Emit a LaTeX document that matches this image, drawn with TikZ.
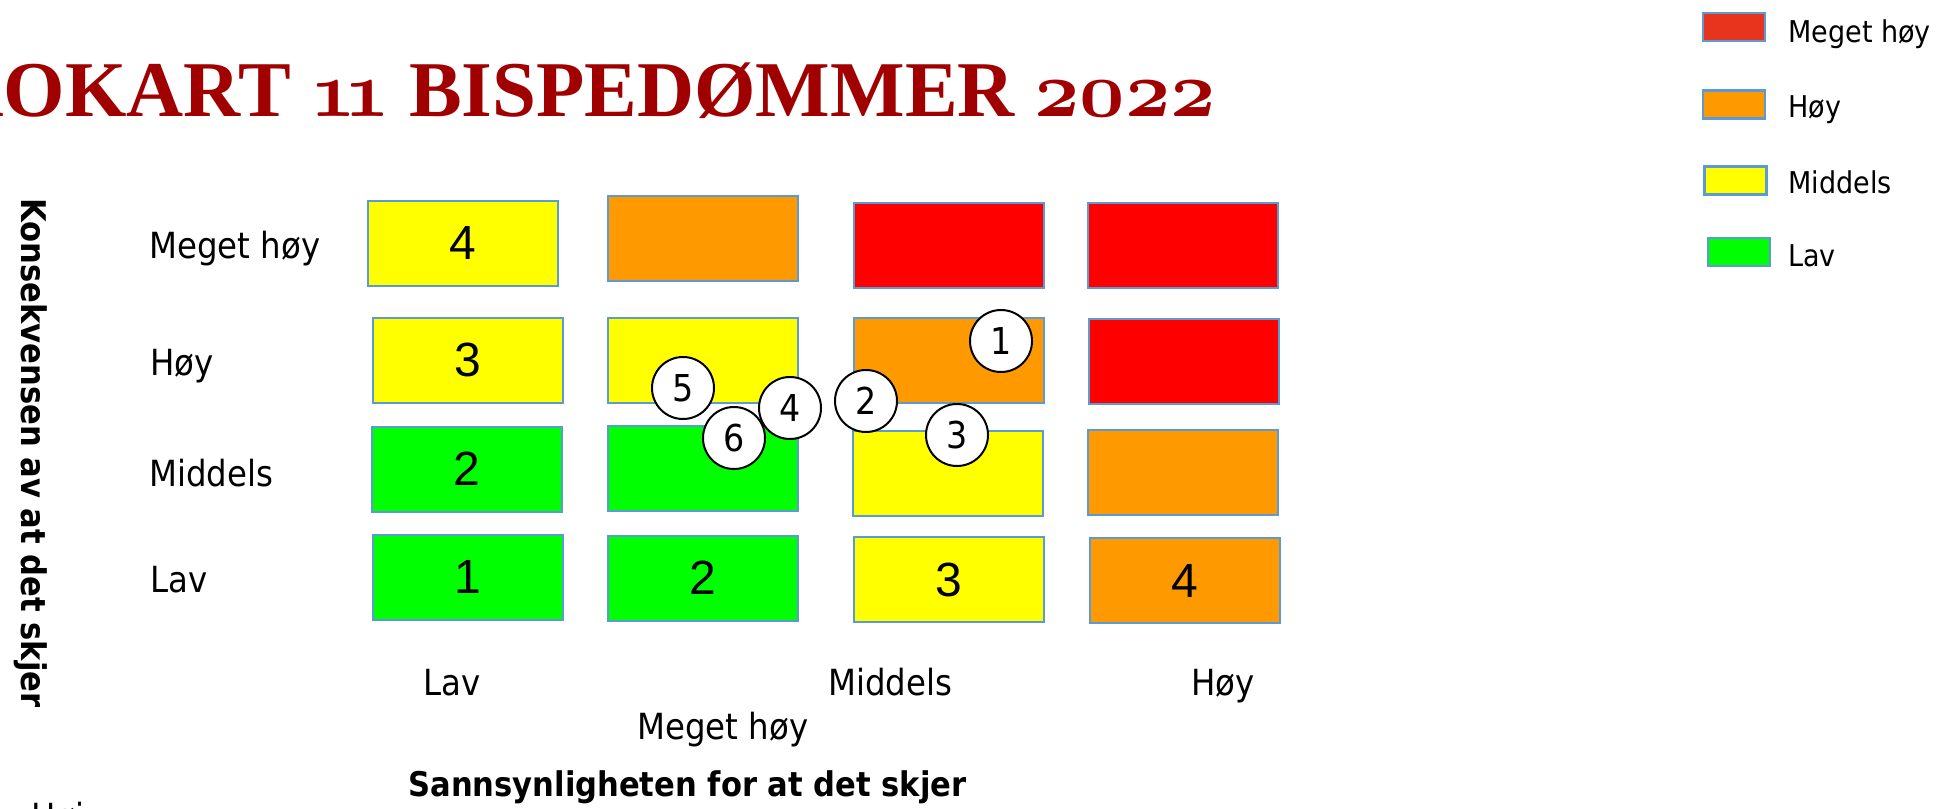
\RequirePackage{fix-cm}
\documentclass[tikz,border=0pt]{standalone}
\usepackage{fontspec}
\setmainfont{DejaVu Sans Condensed}
\newfontfamily\digitfont{Liberation Sans}
\newfontfamily\titlefont{Liberation Serif}
\newcommand{\oldnum}[1]{{\usefont{OML}{cmm}{b}{it}#1}}
\definecolor{titlered}{HTML}{A00000}
\definecolor{cellline}{HTML}{5B9BD5}
\definecolor{cellred}{HTML}{FF0000}
\definecolor{legendred}{HTML}{E8341C}
\definecolor{cellorange}{HTML}{FF9900}
\definecolor{cellyellow}{HTML}{FFFF00}
\definecolor{cellgreen}{HTML}{00FF00}

\begin{document}
\begin{tikzpicture}[x=0.5pt,y=-0.5pt,
  cell/.style={draw=cellline,line width=1pt,minimum width=95pt,minimum height=42.5pt,inner sep=0pt,font=\digitfont\fontsize{24}{24}\selectfont},
  marker/.style={circle,draw=black,line width=1pt,fill=white,minimum size=31pt,inner sep=0pt,font=\fontsize{18.5}{18.5}\selectfont},
  legendbox/.style={draw=cellline,line width=1.2pt,minimum width=31pt,minimum height=14pt,inner sep=0pt},
  levellabel/.style={anchor=base west,inner sep=0pt,font=\fontsize{18}{18}\selectfont},
  legendlabel/.style={anchor=base west,inner sep=0pt,font=\fontsize{15}{15}\selectfont},
  axistitle/.style={anchor=base west,inner sep=0pt,font=\bfseries\fontsize{17}{17}\selectfont}]
\useasboundingbox (0,0) rectangle (1936,808);

% title
\node[anchor=base west,inner sep=0pt,text=titlered,font=\titlefont\bfseries\fontsize{39.5}{39.5}\selectfont] (title) at (-58,117) {KOKART \oldnum{1\kern-6pt1} BISPEDØMMER \oldnum{2022}};

% matrix
\node[cell,fill=cellyellow] (mh1) at (463,243) {4};
\node[cell,fill=cellorange] (mh2) at (703,238.5) {};
\node[cell,fill=cellred] (mh3) at (949,245.5) {};
\node[cell,fill=cellred] (mh4) at (1183,245.5) {};

\node[cell,fill=cellyellow] (h1) at (467.5,360) {3};
\node[cell,fill=cellyellow] (h2) at (703,360.5) {};
\node[cell,fill=cellorange] (h3) at (949,360.5) {};
\node[cell,fill=cellred] (h4) at (1183.5,361) {};

\node[cell,fill=cellgreen] (m1) at (467,469) {2};
\node[cell,fill=cellgreen] (m2) at (703,468) {};
\node[cell,fill=cellyellow] (m3) at (947.5,473) {};
\node[cell,fill=cellorange] (m4) at (1182.5,472.5) {};

\node[cell,fill=cellgreen] (l1) at (467.5,577) {1};
\node[cell,fill=cellgreen] (l2) at (703,578) {2};
\node[cell,fill=cellyellow] (l3) at (949,579.5) {3};
\node[cell,fill=cellorange] (l4) at (1185,580.5) {4};

% risks
\node[marker] (r1) at (1001,341) {1};
\node[marker] (r2) at (866,401) {2};
\node[marker] (r3) at (957,435) {3};
\node[marker] (r4) at (790,408) {4};
\node[marker] (r5) at (683,388) {5};
\node[marker] (r6) at (734,438) {6};

% consequence levels
\node[levellabel] (ymh) at (149,258) {Meget høy};
\node[levellabel] (yh) at (150,375) {Høy};
\node[levellabel] (ym) at (149,486) {Middels};
\node[levellabel] (yl) at (150,592) {Lav};

% probability levels
\node[levellabel] (xl) at (423,695) {Lav};
\node[levellabel] (xm) at (828,695) {Middels};
\node[levellabel] (xh) at (1191,695) {Høy};
\node[levellabel] (xmh) at (637,739) {Meget høy};

\node[axistitle] (xaxis) at (408,796) {Sannsynligheten for at det skjer};
\node[axistitle,rotate=-90] (yaxis) at (21,198) {Konsekvensen av at det skjer};
\node[levellabel] (cut) at (31,829) {Høi};

% legend
\node[legendbox,fill=legendred] (kr) at (1734,27) {};
\node[legendbox,fill=cellorange] (ko) at (1734,104.5) {};
\node[legendbox,fill=cellyellow] (ky) at (1735.5,180.5) {};
\node[legendbox,fill=cellgreen] (kg) at (1739,252) {};
\node[legendlabel] at (1788,43) {Meget høy};
\node[legendlabel] at (1788,118) {Høy};
\node[legendlabel] at (1788,193) {Middels};
\node[legendlabel] at (1788,266) {Lav};
\end{tikzpicture}
\end{document}
